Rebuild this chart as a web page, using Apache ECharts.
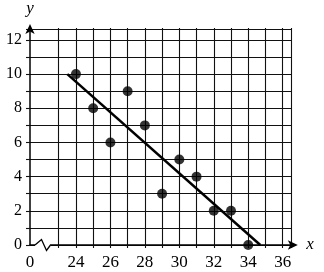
<!DOCTYPE html>
<html><head><meta charset="utf-8">
<script src="https://cdn.jsdelivr.net/npm/echarts@6/dist/echarts.min.js"></script>
<style>html,body{margin:0;padding:0;background:#fff}#c{width:324px;height:272px}</style>
</head><body><div id="c"></div>
<script>
// data
const xValues = [24, 25, 26, 27, 28, 29, 30, 31, 32, 33, 34];
const yValues = [10, 8, 6, 9, 7, 3, 5, 4, 2, 2, 0];
const trendX = [23.5, 34.7];
const trendY = [10, 0];
// ticks (the x axis is broken: its origin "0" sits at the y axis)
const xBreakValue = 21.333;
const xTickValues = [xBreakValue, 24, 26, 28, 30, 32, 34, 36];
const xTickLabels = ['0', '24', '26', '28', '30', '32', '34', '36'];
const yTickValues = [0, 2, 4, 6, 8, 10, 12];
const yTickLabels = ['0', '2', '4', '6', '8', '10', '12'];

const serif = '"Liberation Serif", "DejaVu Serif", serif';
const lineCol = '#111';
const chart = echarts.init(document.getElementById('c'), null, {renderer: 'canvas'});
const pts = xValues.map((x, i) => [x, yValues[i]]);
const trend = trendX.map((x, i) => [x, trendY[i]]);

chart.setOption({
  animation: false,
  backgroundColor: '#fff',
  grid: [
    {left: 30, right: 32.7, top: 28, bottom: 27},
    {left: 58.7, right: 32.7, top: 28, bottom: 27}
  ],
  xAxis: [
    {
      type: 'value', gridIndex: 0, min: xBreakValue, max: 36.5,
      name: 'x', nameLocation: 'end', nameGap: 15,
      nameTextStyle: {fontFamily: serif, fontStyle: 'italic', fontSize: 17, color: '#000', verticalAlign: 'middle', padding: [0, 0, 3, 0]},
      axisLine: {show: true, symbol: ['none', 'arrow'], symbolSize: [7, 10], symbolOffset: [0, 6.5], lineStyle: {color: '#000', width: 1.5}},
      axisTick: {show: false},
      splitLine: {show: false},
      axisLabel: {
        customValues: xTickValues,
        formatter: v => xTickLabels[xTickValues.indexOf(v)] ?? '',
        fontFamily: serif, fontSize: 17, color: '#000', margin: 9
      }
    },
    {
      type: 'value', gridIndex: 1, min: 23, max: 36.5, interval: 1,
      axisLine: {show: false},
      axisTick: {show: true, length: 3, lineStyle: {color: lineCol, width: 1.1}},
      axisLabel: {show: false},
      splitLine: {show: true, lineStyle: {color: lineCol, width: 1.1}}
    }
  ],
  yAxis: [
    {
      type: 'value', gridIndex: 0, min: 0, max: 12.64, interval: 1,
      name: 'y', nameLocation: 'end', nameGap: 12,
      nameTextStyle: {fontFamily: serif, fontStyle: 'italic', fontSize: 17, color: '#000', align: 'center'},
      axisLine: {show: true, symbol: ['none', 'arrow'], symbolSize: [7, 10], symbolOffset: [0, 5], lineStyle: {color: '#000', width: 1.5}},
      axisTick: {show: true, length: 4, lineStyle: {color: lineCol, width: 1.1}},
      splitLine: {show: true, lineStyle: {color: lineCol, width: 1.1}},
      axisLabel: {
        customValues: yTickValues,
        formatter: v => yTickLabels[yTickValues.indexOf(v)] ?? '',
        fontFamily: serif, fontSize: 16, color: '#000', margin: 8
      }
    },
    {
      type: 'value', gridIndex: 1, min: 0, max: 12.64,
      axisLine: {show: false}, axisTick: {show: false}, axisLabel: {show: false}, splitLine: {show: false}
    }
  ],
  series: [
    {
      type: 'line', xAxisIndex: 0, yAxisIndex: 0, data: trend,
      showSymbol: false, lineStyle: {color: '#000', width: 2.5}, z: 3
    },
    {
      type: 'scatter', xAxisIndex: 0, yAxisIndex: 0, data: pts,
      symbol: 'circle', symbolSize: 10, itemStyle: {color: '#000'}, z: 4
    }
  ],
  graphic: [
    {type: 'rect', shape: {x: 35, y: 242, width: 16, height: 6}, style: {fill: '#fff'}, z: 100},
    {type: 'polyline', shape: {points: [[35, 245], [41.5, 239.5], [46.5, 250.5], [50.5, 245], [51, 245]]},
     style: {stroke: '#000', lineWidth: 1.3, fill: null}, z: 101}
  ]
});
</script>
</body></html>
